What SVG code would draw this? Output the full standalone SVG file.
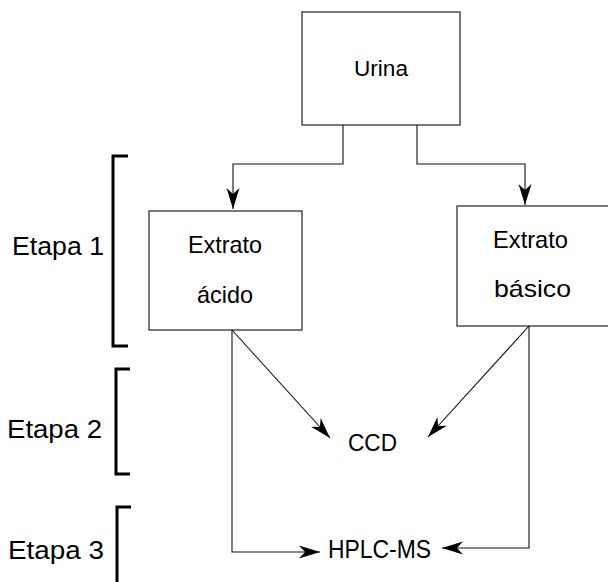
<svg xmlns="http://www.w3.org/2000/svg" width="608" height="582" viewBox="0 0 608 582">
<style>
.box{fill:#fff;stroke:#333;stroke-width:1.3}
.t{font-family:"Liberation Sans",Arial,sans-serif;fill:#000}
.c{fill:none;stroke:#111;stroke-width:1.1}
.br{fill:none;stroke:#000;stroke-width:3}
</style>
<defs>
<marker id="ah" markerUnits="userSpaceOnUse" markerWidth="24" markerHeight="16" viewBox="-22 -8 24 16" refX="0" refY="0" orient="auto">
<path d="M0,0 L-21,-6.5 L-15,0 L-21,6.5 Z" fill="#000"/>
</marker>
</defs>
<rect width="608" height="582" fill="#fff"/>
<g id="urina">
<rect class="box" x="302" y="12" width="158" height="113"/>
<text class="t" x="354" y="76" font-size="22" textLength="54" lengthAdjust="spacingAndGlyphs">Urina</text>
</g>
<g id="extrato-acido">
<rect class="box" x="149" y="211" width="153" height="119"/>
<text class="t" x="188" y="253" font-size="24" textLength="74" lengthAdjust="spacingAndGlyphs">Extrato</text>
<text class="t" x="197" y="303" font-size="24" textLength="56" lengthAdjust="spacingAndGlyphs">ácido</text>
</g>
<g id="extrato-basico">
<rect class="box" x="457" y="206" width="160" height="120"/>
<text class="t" x="493" y="248" font-size="24" textLength="75" lengthAdjust="spacingAndGlyphs">Extrato</text>
<text class="t" x="494" y="297" font-size="24" textLength="77" lengthAdjust="spacingAndGlyphs">básico</text>
</g>
<g id="ccd">
<text class="t" x="348" y="451" font-size="24" textLength="49" lengthAdjust="spacingAndGlyphs">CCD</text>
</g>
<g id="hplc-ms">
<text class="t" x="328" y="558" font-size="25" textLength="103" lengthAdjust="spacingAndGlyphs">HPLC-MS</text>
</g>
<g id="etapas">
<path class="br" d="M128,156 H113 V346 H128"/>
<text class="t" x="12" y="255" font-size="26" textLength="92" lengthAdjust="spacingAndGlyphs">Etapa 1</text>
<path class="br" d="M130,369 H116 V474 H130"/>
<text class="t" x="7" y="438" font-size="26" textLength="95" lengthAdjust="spacingAndGlyphs">Etapa 2</text>
<path class="br" d="M131,507 H117 V586"/>
<text class="t" x="8" y="559" font-size="26" textLength="96" lengthAdjust="spacingAndGlyphs">Etapa 3</text>
</g>
<g id="connectors">
<path class="c" d="M343,125 V164 H233 V209" marker-end="url(#ah)"/>
<path class="c" d="M417,125 V164 H525 V205" marker-end="url(#ah)"/>
<path class="c" d="M232,330 L330,438" marker-end="url(#ah)"/>
<path class="c" d="M529,326 L428,437" marker-end="url(#ah)"/>
<path class="c" d="M232,330 V552 H320" marker-end="url(#ah)"/>
<path class="c" d="M529,326 V548 H442" marker-end="url(#ah)"/>
</g>
</svg>
